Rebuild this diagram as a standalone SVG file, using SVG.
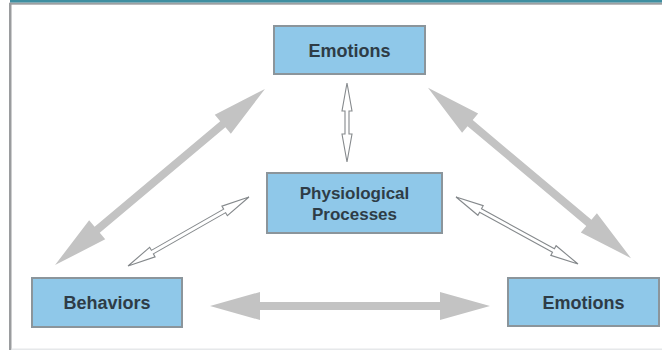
<svg xmlns="http://www.w3.org/2000/svg" width="662" height="350" viewBox="0 0 662 350">
<style>
.box{fill:#8fc8e9;stroke:#8b959b;stroke-width:2}
.lbl{font-family:"Liberation Sans",Arial,sans-serif;font-weight:bold;fill:#2e3c46;text-anchor:middle}
.big{fill:#c3c3c3;stroke:none}
.thin{fill:#ffffff;stroke:#85898c;stroke-width:1.1;stroke-linejoin:miter}
</style>
<rect x="0" y="0" width="662" height="350" fill="#ffffff"/>
<g id="frame">
<rect x="10" y="0" width="652" height="2.7" fill="#3f8fa1"/>
<rect x="10" y="2.7" width="652" height="2" fill="#9c9fa1"/>
<rect x="9" y="2.7" width="2.5" height="347.3" fill="#9a9c9e"/>
<rect x="11.5" y="348.5" width="650.5" height="1.5" fill="#e6e8ea"/>
</g>
<g id="connectors">
<path class="big" transform="translate(160,177) rotate(-40)" d="M-137,0 L-82,-12.5 L-82,-4 L82,-4 L82,-12.5 L137,0 L82,12.5 L82,4 L-82,4 L-82,12.5 Z"/>
<path class="big" transform="translate(529.5,173) rotate(40)" d="M-132.5,0 L-77.5,-12.5 L-77.5,-4 L77.5,-4 L77.5,-12.5 L132.5,0 L77.5,12.5 L77.5,4 L-77.5,4 L-77.5,12.5 Z"/>
<path class="big" d="M210,306 L260,292 L260,302 L440,302 L440,292 L490,306 L440,320 L440,310 L260,310 L260,320 Z"/>
<path class="thin" d="M347,83 L352,111 L349,111 L349,134 L352,134 L347,162 L342,134 L345,134 L345,111 L342,111 Z"/>
<path class="thin" transform="translate(188.5,231.5) rotate(-29.7)" d="M-69.6,0 L-41.6,-5.5 L-41.6,-2 L41.6,-2 L41.6,-5.5 L69.6,0 L41.6,5.5 L41.6,2 L-41.6,2 L-41.6,5.5 Z"/>
<path class="thin" transform="translate(517,230.5) rotate(28.8)" d="M-69.6,0 L-41.6,-5.5 L-41.6,-2 L41.6,-2 L41.6,-5.5 L69.6,0 L41.6,5.5 L41.6,2 L-41.6,2 L-41.6,5.5 Z"/>
</g>
<g id="emotions-top">
<rect class="box" x="274" y="26" width="151" height="48"/>
<text class="lbl" x="349.5" y="57" font-size="18">Emotions</text>
</g>
<g id="physiological">
<rect class="box" x="267" y="173" width="175" height="60"/>
<text class="lbl" x="354.5" y="199" font-size="17">Physiological</text>
<text class="lbl" x="354.5" y="220" font-size="17">Processes</text>
</g>
<g id="behaviors">
<rect class="box" x="32" y="278" width="150" height="49"/>
<text class="lbl" x="107" y="309" font-size="18">Behaviors</text>
</g>
<g id="emotions-right">
<rect class="box" x="508" y="278" width="151" height="48"/>
<text class="lbl" x="583.5" y="309" font-size="18">Emotions</text>
</g>
</svg>
